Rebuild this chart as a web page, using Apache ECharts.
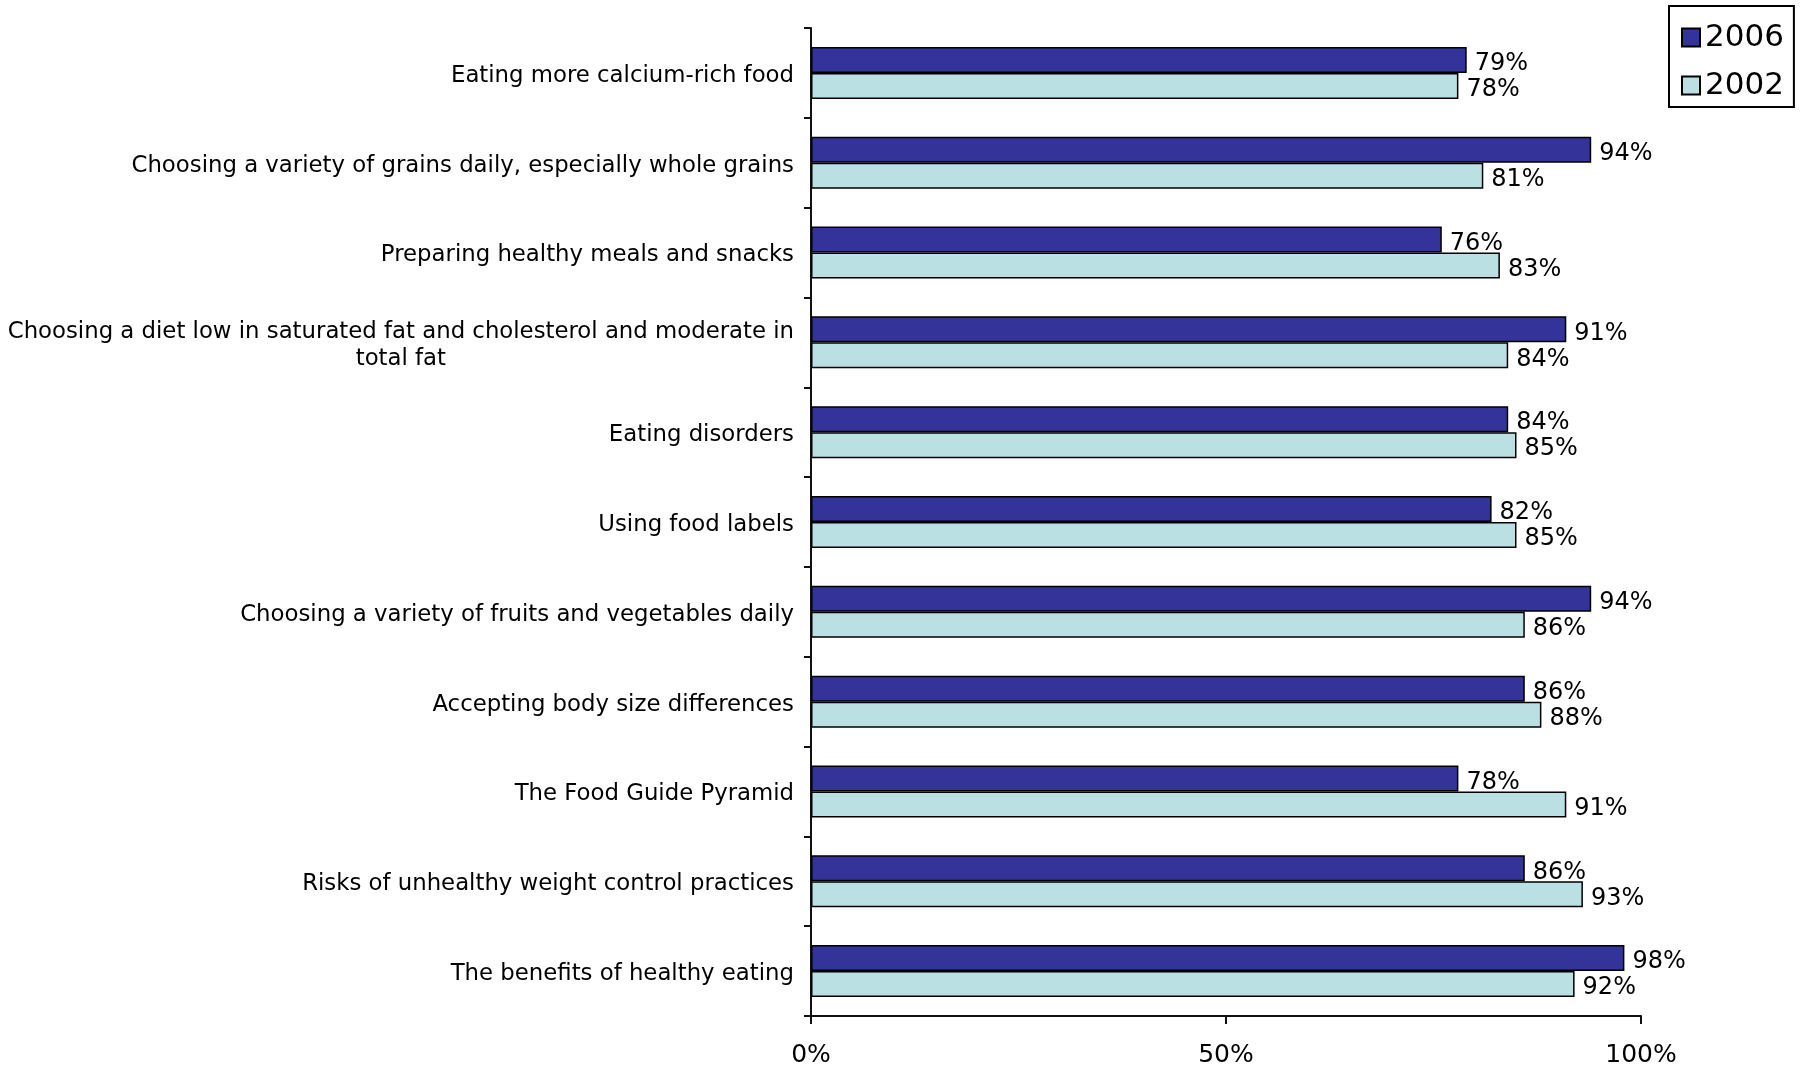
<!DOCTYPE html>
<html>
<head>
    <meta http-equiv="Content-Type" content="text/html; charset=UTF-8" />
    <script src="https://cdn.jsdelivr.net/npm/echarts@6/dist/echarts.min.js"></script>
    <style>
        html, body { margin: 0; padding: 0; background: #fff; }
    </style>
</head>
<body>
    <div id="chart" style="width:1804px;height:1071px"></div>

    <script type="text/javascript">
        // categories top to bottom
        var categories = [
            'Eating more calcium-rich food',
            'Choosing a variety of grains daily, especially whole grains',
            'Preparing healthy meals and snacks',
            'Choosing a diet low in saturated fat and cholesterol and moderate in\ntotal fat',
            'Eating disorders',
            'Using food labels',
            'Choosing a variety of fruits and vegetables daily',
            'Accepting body size differences',
            'The Food Guide Pyramid',
            'Risks of unhealthy weight control practices',
            'The benefits of healthy eating'
        ];
        var values2006 = [79, 94, 76, 91, 84, 82, 94, 86, 78, 86, 98];
        var values2002 = [78, 81, 83, 84, 85, 85, 86, 88, 91, 93, 92];
        var xTicks = [0, 50, 100];

        var font = "'DejaVu Sans', sans-serif";
        var chart = echarts.init(document.getElementById('chart'));

        var labelStyle = {
            show: true,
            position: 'right',
            distance: 8,
            offset: [0, 4],
            fontFamily: font,
            fontSize: 24,
            color: '#000',
            formatter: '{c}%'
        };

        var option = {
            animation: false,
            legend: {
                orient: 'vertical',
                left: 1669,
                top: 6,
                padding: [16, 10, 6, 12],
                borderColor: '#000',
                borderWidth: 2,
                itemWidth: 18,
                itemHeight: 18,
                itemGap: 17,
                itemTextGap: 12,
                icon: 'rect',
                textStyle: {
                    fontFamily: font,
                    fontSize: 31,
                    color: '#000'
                },
                data: ['2006', '2002']
            },
            grid: {
                left: 811,
                top: 28,
                right: 163,
                bottom: 55,
                containLabel: false
            },
            xAxis: {
                type: 'value',
                min: 0,
                max: 100,
                interval: 50,
                splitLine: { show: false },
                axisLine: { show: true, lineStyle: { color: '#111', width: 2 } },
                axisTick: { show: true, length: 8, lineStyle: { color: '#111', width: 2 } },
                axisLabel: {
                    margin: 27,
                    fontFamily: font,
                    fontSize: 25,
                    color: '#000',
                    formatter: function (v) {
                        return xTicks.indexOf(v) >= 0 ? v + '%' : '';
                    }
                }
            },
            yAxis: {
                type: 'category',
                inverse: true,
                data: categories,
                axisLine: { show: true, lineStyle: { color: '#111', width: 2 } },
                axisTick: { show: true, length: 7, lineStyle: { color: '#111', width: 2 } },
                axisLabel: {
                    margin: 17,
                    padding: [6, 0, 0, 0],
                    fontFamily: font,
                    fontSize: 22.8,
                    lineHeight: 27,
                    color: '#000',
                    formatter: function (v) {
                        return v.split('\n').map(function (s) { return '{a|' + s + '}'; }).join('\n');
                    },
                    rich: {
                        a: {
                            align: 'center',
                            fontFamily: font,
                            fontSize: 22.8,
                            lineHeight: 27,
                            color: '#000'
                        }
                    }
                }
            },
            series: [{
                name: '2006',
                type: 'bar',
                barWidth: 26,
                barGap: '0%',
                data: values2006,
                itemStyle: { color: '#333399', borderColor: '#000', borderWidth: 1.5 },
                label: labelStyle
            }, {
                name: '2002',
                type: 'bar',
                barWidth: 26,
                data: values2002,
                itemStyle: { color: '#bbe0e3', borderColor: '#000', borderWidth: 1.5 },
                label: labelStyle
            }]
        };

        chart.setOption(option);
    </script>
</body>
</html>
